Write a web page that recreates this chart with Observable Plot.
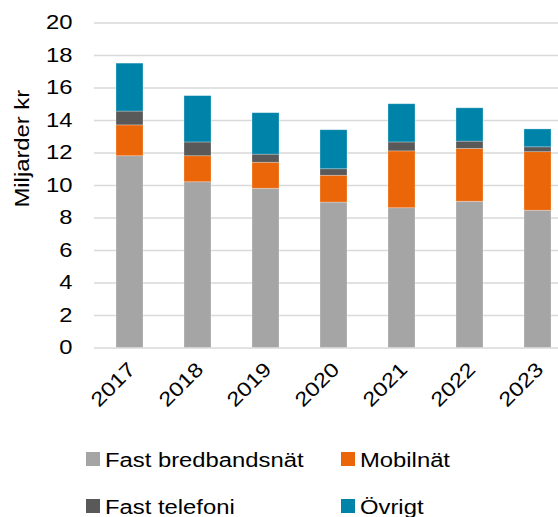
<!DOCTYPE html>
<html>
<head>
<meta charset="utf-8">
<script src="https://cdn.jsdelivr.net/npm/d3@7"></script>
<script src="https://cdn.jsdelivr.net/npm/@observablehq/plot@0.6"></script>
<style>
  html, body { margin: 0; padding: 0; background: #fff; }
  #wrap { position: relative; width: 558px; height: 517px; overflow: hidden; font-family: "Liberation Sans", Arial, sans-serif; }
  #legend { position: absolute; left: 0; top: 430px; }
</style>
</head>
<body>
<div id="wrap"></div>
<script>
const years = ["2017", "2018", "2019", "2020", "2021", "2022", "2023"];
const seriesNames = ["Fast bredbandsnät", "Mobilnät", "Fast telefoni", "Övrigt"];
const seriesColors = ["#a5a5a5", "#eb6608", "#595959", "#0083a9"];
const fastBredband = [11.8, 10.2, 9.8, 8.95, 8.6, 9.0, 8.45];
const mobilnat = [1.9, 1.6, 1.6, 1.65, 3.5, 3.25, 3.6];
const fastTelefoni = [0.85, 0.85, 0.5, 0.4, 0.55, 0.45, 0.3];
const ovrigt = [2.95, 2.85, 2.55, 2.4, 2.35, 2.05, 1.1];
const yTicks = [0, 2, 4, 6, 8, 10, 12, 14, 16, 18, 20];
const yLabel = "Miljarder kr";

const seriesValues = [fastBredband, mobilnat, fastTelefoni, ovrigt];
const data = [];
seriesNames.forEach((s, si) => years.forEach((yr, i) => data.push({year: yr, series: s, value: seriesValues[si][i]})));

const chart = Plot.plot({
  width: 558,
  height: 430,
  marginLeft: 94,
  marginRight: 0,
  marginTop: 22.5,
  marginBottom: 82.5,
  style: {fontFamily: "'Liberation Sans', Arial, sans-serif", fontSize: "20px", color: "#000", background: "#fff", overflow: "visible"},
  x: {domain: years, range: [94, 572.5], paddingInner: 0.6, paddingOuter: 0.3, label: null},
  y: {domain: [0, 20], label: null},
  color: {domain: seriesNames, range: seriesColors},
  marks: [
    Plot.ruleY(yTicks, {stroke: "#d9d9d9", strokeWidth: 1.4}),
    Plot.barY(data, {x: "year", y: "value", fill: "series", stroke: "#ffffff", strokeOpacity: 0.35, strokeWidth: 0.75}),
    Plot.axisY(yTicks, {tickSize: 0, tickPadding: 22, fontSize: 20, fill: "#000", label: null}),
    Plot.axisX({tickSize: 0, tickPadding: 18, dx: 2, tickRotate: -45, fontSize: 20, fill: "#000", label: null}),
    Plot.text([yLabel], {text: d => d, frameAnchor: "left", textAnchor: "start", rotate: -90, dx: -72, dy: 22, fontSize: 20, fill: "#000"})
  ]
});
document.getElementById("wrap").appendChild(chart);

// Legend
const legend = d3.select("#wrap").append("svg")
  .attr("id", "legend")
  .attr("width", 558)
  .attr("height", 87)
  .style("font-family", "'Liberation Sans', Arial, sans-serif")
  .style("font-size", "20px");
const colX = [86, 341];
const rowTop = [22, 69];
seriesNames.forEach((name, i) => {
  const x = colX[i % 2], y = rowTop[Math.floor(i / 2)];
  legend.append("rect").attr("x", x).attr("y", y).attr("width", 14).attr("height", 14).attr("fill", seriesColors[i]);
  legend.append("text").attr("x", x + 19).attr("y", y + 14.5).attr("fill", "#000").text(name);
});

// widen text to match reference glyph proportions
const stretch = 1.19;
document.querySelectorAll("#wrap svg text").forEach(t => {
  const len = t.getComputedTextLength();
  if (len > 0) {
    t.setAttribute("textLength", (len * stretch).toFixed(1));
    t.setAttribute("lengthAdjust", "spacingAndGlyphs");
  }
});
</script>
</body>
</html>
